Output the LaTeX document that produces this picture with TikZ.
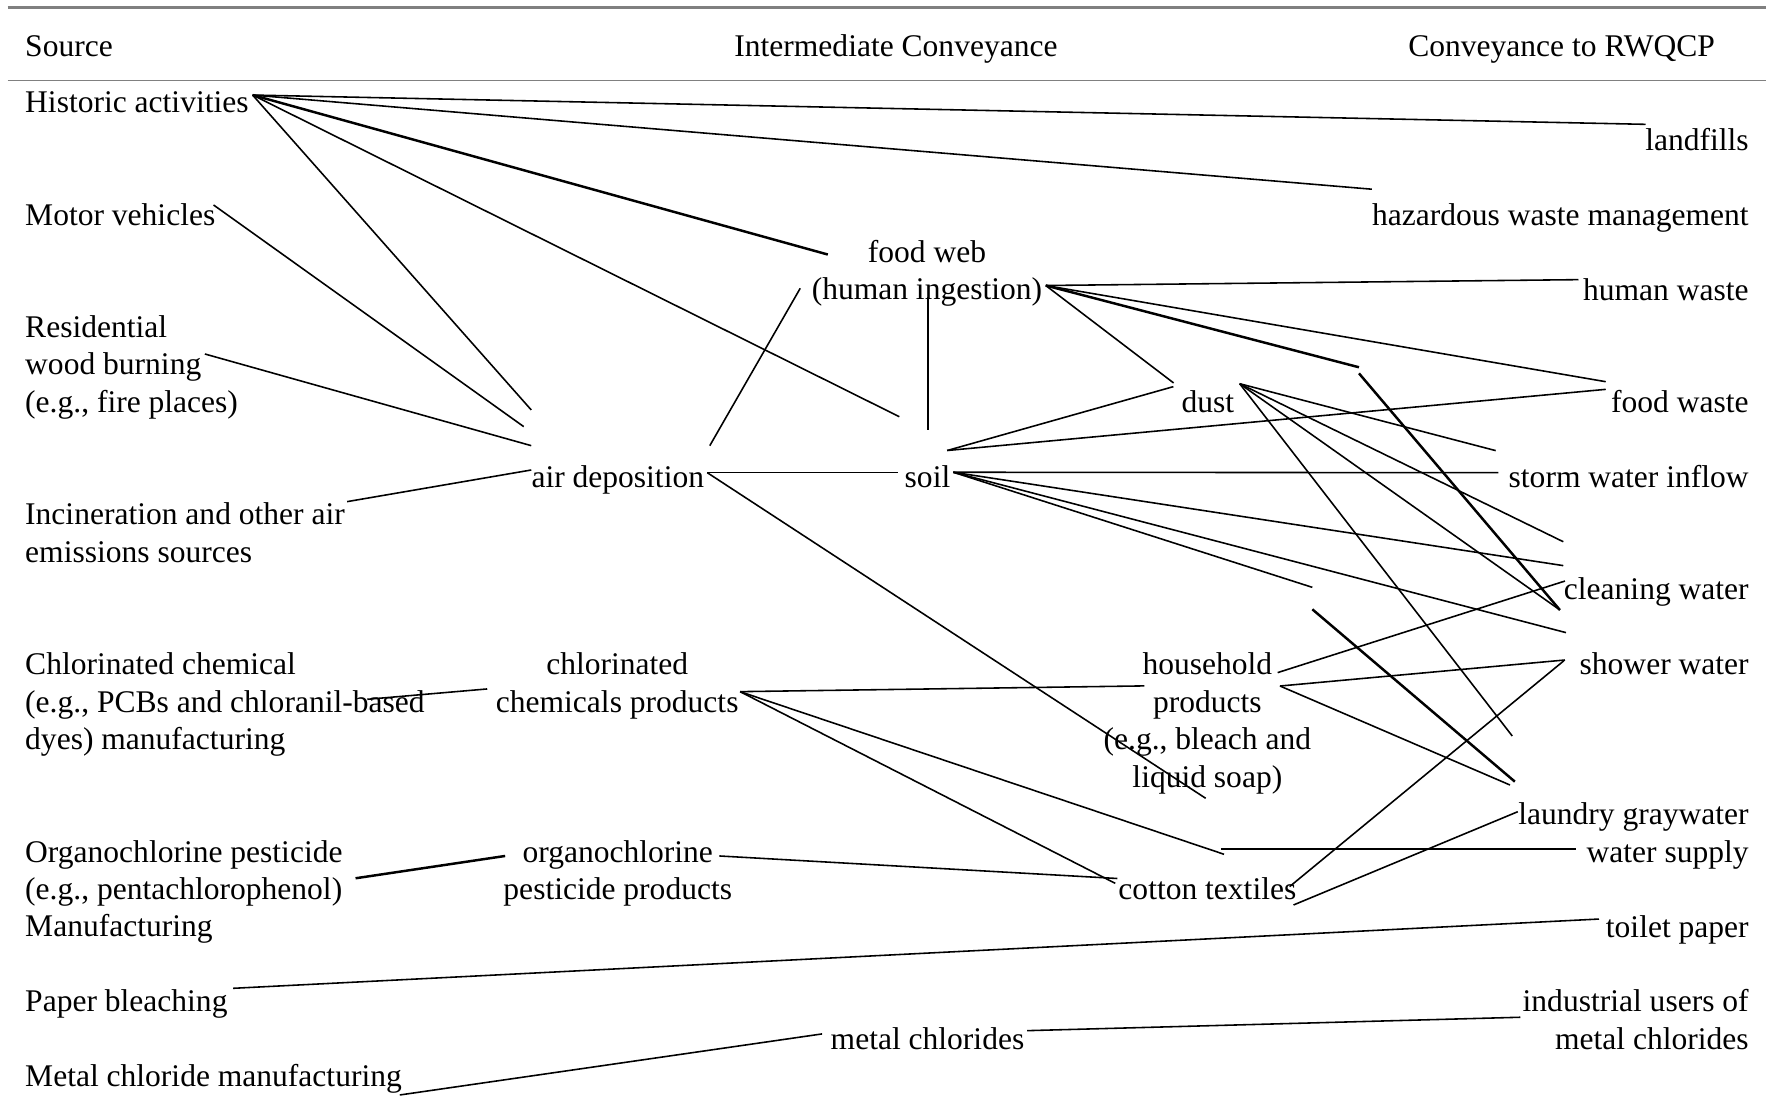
\documentclass[tikz,border=0pt]{standalone}
\usepackage{fontspec}
\setmainfont{Liberation Serif}
\newcommand\stackL[1]{\begin{tabular}[t]{@{}l@{}}#1\end{tabular}}
\newcommand\stackC[1]{\begin{tabular}[t]{@{}c@{}}#1\end{tabular}}
\newcommand\stackR[1]{\begin{tabular}[t]{@{}r@{}}#1\end{tabular}}
\begin{document}
\begin{tikzpicture}[x=0.5pt,y=-0.5pt,
  lbl/.style={inner sep=0pt, font=\fontsize{14}{16.63}\selectfont},
  src/.style={lbl, anchor=base west},
  mid/.style={lbl, anchor=base},
  dst/.style={lbl, anchor=base east},
  link/.style={line width=0.7pt, black},
  heavy/.style={line width=1.1pt, black},
  toprule/.style={draw=gray, line width=1.3pt},
  midrule/.style={draw=gray, line width=0.7pt}]
\useasboundingbox (0,0) rectangle (1568,983);

% header rules
\coordinate (r1a) at (6.8,6.5);  \coordinate (r1b) at (1568,6.5);
\coordinate (r2a) at (6.8,71.6); \coordinate (r2b) at (1568,71.6);
\draw[toprule] (r1a) -- (r1b);
\draw[midrule] (r2a) -- (r2b);

% headers
\node[src] (hsrc) at (22,50) {Source};
\node[mid] (hmid) at (795.5,50) {Intermediate Conveyance};
\node[dst] (hdst) at (1523,50) {Conveyance to RWQCP};

% source column
\node[src] (hist)   at (22,100)   {Historic activities};
\node[src] (motor)  at (22,199.8) {Motor vehicles};
\node[src] (resid)  at (22,299.6) {\stackL{Residential\\wood burning\\(e.g., fire places)}};
\node[src] (incin)  at (22,466)   {\stackL{Incineration and other air\\emissions sources}};
\node[src] (chlmfg) at (22,599)   {\stackL{Chlorinated chemical\\(e.g., PCBs and chloranil-based\\dyes) manufacturing}};
\node[src] (ocmfg)  at (22,765.4) {\stackL{Organochlorine pesticide\\(e.g., pentachlorophenol)\\Manufacturing}};
\node[src] (paper)  at (22,898.5) {Paper bleaching};
\node[src] (metmfg) at (22,965)   {Metal chloride manufacturing};

% intermediate column
\node[mid] (food)   at (823,233.1)  {\stackC{food web\\(human ingestion)}};
\node[mid] (air)    at (548.5,432.7) {air deposition};
\node[mid] (soil)   at (823.5,432.7) {soil};
\node[mid] (dust)   at (1072.5,366.2) {dust};
\node[mid] (chlprod) at (548,599)   {\stackC{chlorinated\\chemicals products}};
\node[mid] (house)  at (1072,599)   {\stackC{household\\products\\(e.g., bleach and\\liquid soap)}};
\node[mid] (ocprod) at (548.5,765.4) {\stackC{organochlorine\\pesticide products}};
\node[mid] (cotton) at (1072,798.7) {cotton textiles};
\node[mid] (metcl)  at (823.5,931.8) {metal chlorides};

% conveyance column
\node[dst] (landf)  at (1553,133.3) {landfills};
\node[dst] (hazard) at (1553,199.8) {hazardous waste management};
\node[dst] (humw)   at (1553,266.4) {human waste};
\node[dst] (foodw)  at (1553,366.2) {food waste};
\node[dst] (storm)  at (1553,432.7) {storm water inflow};
\node[dst] (clean)  at (1553,532.5) {cleaning water};
\node[dst] (shower) at (1553,599)   {shower water};
\node[dst] (laund)  at (1553,732.1) {laundry graywater};
\node[dst] (wsup)   at (1553,765.4) {water supply};
\node[dst] (toil)   at (1553,832)   {toilet paper};
\node[dst] (indus)  at (1553,898.5) {\stackR{industrial users of\\metal chlorides}};

% connector end points
\coordinate (hist-o) at (224.3,84.4);
\coordinate (landf-i) at (1461,110.4);
\coordinate (hazard-i) at (1218,168);
\coordinate (food-il) at (735,226);
\coordinate (soil-ih) at (798.5,370);
\coordinate (air-ih) at (471.7,364);
\coordinate (motor-o) at (189.6,182);
\coordinate (air-im) at (465,378.8);
\coordinate (resid-o) at (181.9,314.3);
\coordinate (air-ir) at (471.7,395.7);
\coordinate (incin-o) at (308.2,445.4);
\coordinate (air-ii) at (471.7,417.3);
\coordinate (air-ou) at (630.2,395.7);
\coordinate (food-ib) at (710.5,256);
\coordinate (air-or) at (628,419.7);
\coordinate (soil-il) at (797,419.7);
\coordinate (soap-i) at (1070.5,708.8);
\coordinate (food-ob) at (824,263.4);
\coordinate (soil-it) at (824,381.8);
\coordinate (food-or) at (928.5,253.5);
\coordinate (humw-i) at (1401.5,248.3);
\coordinate (foodw-it) at (1425.7,338.9);
\coordinate (dust-it) at (1042,340);
\coordinate (food-k1) at (1206.6,326.1);
\coordinate (food-k2) at (1206.6,331.5);
\coordinate (clean-ia) at (1385,541.6);
\coordinate (soil-ou) at (841,400);
\coordinate (dust-il) at (1041.8,343.3);
\coordinate (foodw-ib) at (1425.7,345.7);
\coordinate (soil-or) at (846.4,419.3);
\coordinate (storm-i) at (1330.3,419.7);
\coordinate (clean-ib) at (1388,502.2);
\coordinate (shower-ia) at (1390.4,561.7);
\coordinate (soil-k1) at (1165.2,521.5);
\coordinate (soil-k2) at (1165.2,541);
\coordinate (laund-ia) at (1345,694);
\coordinate (dust-o) at (1100.7,340.7);
\coordinate (storm-ia) at (1328,400.1);
\coordinate (clean-ic) at (1388,481);
\coordinate (laund-ib) at (1342.7,653.5);
\coordinate (chl-o) at (657.1,614.1);
\coordinate (house-il) at (1016,609);
\coordinate (house-o1) at (1134.4,597.2);
\coordinate (clean-id) at (1389.5,515.9);
\coordinate (house-o2) at (1136.5,609.1);
\coordinate (shower-ib) at (1389.5,586);
\coordinate (laund-ic) at (1340.7,697);
\coordinate (wsup-o) at (1086.8,758.5);
\coordinate (cotton-ia) at (990.2,784.3);
\coordinate (ocprod-o) at (638.7,760);
\coordinate (cotton-ib) at (992,780);
\coordinate (wsup-a) at (1084,754);
\coordinate (wsup-i) at (1399.7,754);
\coordinate (cotton-o1) at (1145,787.2);
\coordinate (shower-ic) at (1388.6,586.6);
\coordinate (cotton-o2) at (1148.5,803.5);
\coordinate (laund-id) at (1347.6,720.7);
\coordinate (chlmfg-o) at (326.1,620.9);
\coordinate (chlprod-i) at (432.6,611.7);
\coordinate (ocmfg-o) at (315.7,779.8);
\coordinate (ocprod-i) at (448.5,760);
\coordinate (paper-o) at (207,877.5);
\coordinate (toil-i) at (1419.7,816);
\coordinate (metmfg-o) at (355,972.2);
\coordinate (metcl-i) at (729.9,918);
\coordinate (metcl-o) at (911.9,915.1);
\coordinate (indus-i) at (1349.8,903.2);

% historic activities
\draw[link] (hist-o) -- (landf-i);
\draw[link] (hist-o) -- (hazard-i);
\draw[heavy] (hist-o) -- (food-il);
\draw[link] (hist-o) -- (soil-ih);
\draw[link] (hist-o) -- (air-ih);
% other sources to air deposition
\draw[link] (motor-o) -- (air-im);
\draw[link] (resid-o) -- (air-ir);
\draw[link] (incin-o) -- (air-ii);
% air deposition
\draw[link] (air-ou) -- (food-ib);
\draw[link] (air-or) -- (soil-il);
\draw[link] (air-or) -- (soap-i);
% food web
\draw[link] (food-ob) -- (soil-it);
\draw[link] (food-or) -- (humw-i);
\draw[link] (food-or) -- (foodw-it);
\draw[link] (food-or) -- (dust-it);
\draw[heavy] (food-or) -- (food-k1);
\draw[heavy] (food-k2) -- (clean-ia);
% soil
\draw[link] (soil-ou) -- (dust-il);
\draw[link] (soil-ou) -- (foodw-ib);
\draw[link] (soil-or) -- (storm-i);
\draw[link] (soil-or) -- (clean-ib);
\draw[link] (soil-or) -- (shower-ia);
\draw[link] (soil-or) -- (soil-k1);
\draw[heavy] (soil-k2) -- (laund-ia);
% dust
\draw[link] (dust-o) -- (storm-ia);
\draw[link] (dust-o) -- (clean-ic);
\draw[link] (dust-o) -- (clean-ia);
\draw[link] (dust-o) -- (laund-ib);
% chlorinated chemicals products
\draw[link] (chlmfg-o) -- (chlprod-i);
\draw[link] (chl-o) -- (house-il);
\draw[link] (chl-o) -- (wsup-o);
\draw[link] (chl-o) -- (cotton-ia);
% household products
\draw[link] (house-o1) -- (clean-id);
\draw[link] (house-o2) -- (shower-ib);
\draw[link] (house-o2) -- (laund-ic);
% organochlorine
\draw[heavy] (ocmfg-o) -- (ocprod-i);
\draw[link] (ocprod-o) -- (cotton-ib);
% cotton textiles / water supply
\draw[link] (wsup-a) -- (wsup-i);
\draw[link] (cotton-o1) -- (shower-ic);
\draw[link] (cotton-o2) -- (laund-id);
% paper and metal chlorides
\draw[link] (paper-o) -- (toil-i);
\draw[link] (metmfg-o) -- (metcl-i);
\draw[link] (metcl-o) -- (indus-i);
\end{tikzpicture}
\end{document}
